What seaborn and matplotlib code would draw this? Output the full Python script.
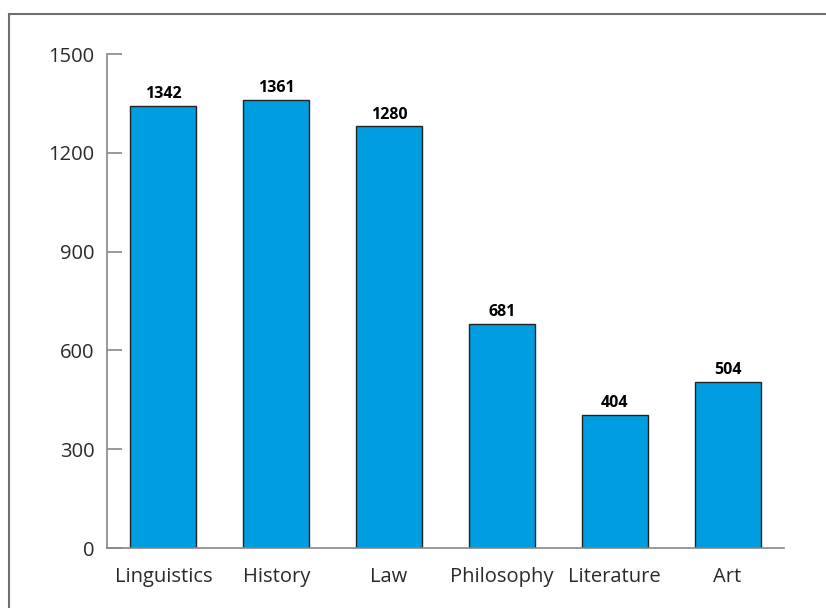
import matplotlib
matplotlib.use('Agg')
import matplotlib.pyplot as plt
import seaborn as sns
import pandas as pd
from matplotlib.patches import Rectangle

subjects = ['Linguistics', 'History', 'Law', 'Philosophy', 'Literature', 'Art']
counts = [1342, 1361, 1280, 681, 404, 504]
yticks = [0, 300, 600, 900, 1200, 1500]

sns.set_style('white')
plt.rcParams['font.family'] = ['Open Sans', 'DejaVu Sans']

df = pd.DataFrame({'subject': subjects, 'count': counts})

fig = plt.figure(figsize=(8.26, 6.08), dpi=100)
ax = fig.add_axes([107 / 826, 60 / 608, 677 / 826, 494 / 608])

# outer frame, open to the right and bottom
fig.patches.append(Rectangle((9 / 826, -0.1), 1.2, 1 - 14 / 608 + 0.1,
                             transform=fig.transFigure, fill=False,
                             edgecolor='#707070', linewidth=1.5))

sns.barplot(data=df, x='subject', y='count', color='#009ee0', saturation=1,
            width=0.584, edgecolor='#222222', linewidth=1, ax=ax)

for i, v in enumerate(counts):
    ax.text(i, v + 12, str(v), ha='center', va='bottom',
            fontsize=11.5, fontweight='bold', color='black')

ax.set_xlim(-0.5, 5.5)
ax.set_ylim(0, 1500)
ax.set_yticks(yticks)
ax.set_xlabel('')
ax.set_ylabel('')
sns.despine(ax=ax)
for s in ['left', 'bottom']:
    ax.spines[s].set_color('#888888')
    ax.spines[s].set_linewidth(1.2)
ax.tick_params(axis='y', left=True, direction='in', length=11, width=1.2,
               color='#888888', labelsize=14.5, pad=9, labelcolor='#2a2a2a')
ax.tick_params(axis='x', bottom=False, length=0, labelsize=14.5, pad=14,
               labelcolor='#2a2a2a')

fig.savefig('out.png', dpi=100)
